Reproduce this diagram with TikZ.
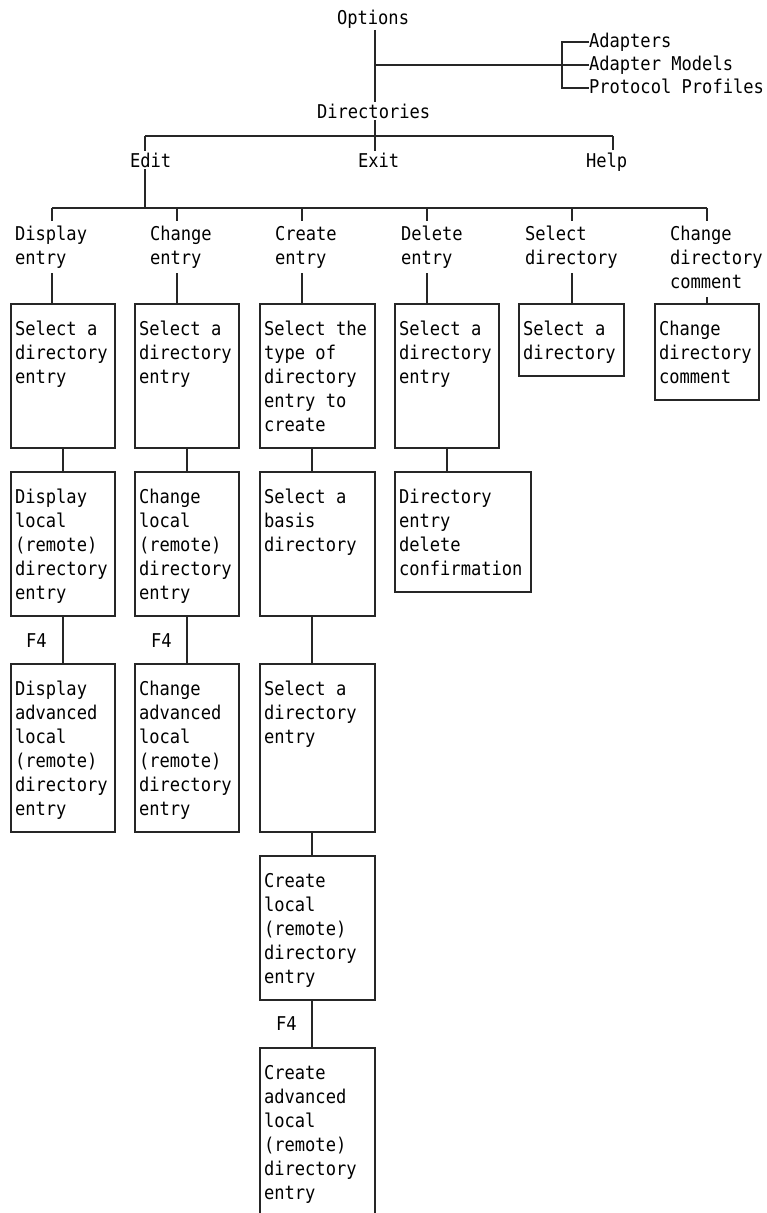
\documentclass[tikz,border=0pt]{standalone}
\usepackage{fontspec}
\newfontfamily\menufont[FakeStretch=0.9]{DejaVu Sans Mono}
% framed panel: fixed width/height, text hung from the top-left corner
\newcommand\mpanel[3]{\parbox[c][#2][t]{#1}{\leftskip=4pt\rule{0pt}{31pt}#3\par}}
% stacked label lines, baseline on the first line
\newcommand\mstack[1]{\begin{tabular}[t]{@{}l@{}}#1\end{tabular}}
\begin{document}
\begin{tikzpicture}[x=1pt,y=-1pt,
  font=\menufont\fontsize{19}{24}\selectfont,
  line/.style={draw=black!85, line width=1.3pt},
  boxed/.style={draw=black!85, line width=1.3pt, inner sep=0pt, outer sep=0pt, anchor=north west},
  txt/.style={inner xsep=0pt, inner ysep=2pt, outer sep=0pt, anchor=base west},
  sidetxt/.style={txt, text height=14pt, text depth=4pt}]
\useasboundingbox (0,0) rectangle (767,1213);

% ---- top menu bar
\node[txt] (opt) at (337,24) {Options};
\node[txt] (dir) at (317,118) {Directories};
\node[sidetxt] (ad) at (589,47) {Adapters};
\node[sidetxt] (am) at (589,70) {Adapter Models};
\node[sidetxt] (pp) at (589,93) {Protocol Profiles};
\coordinate (trunk) at (375,0);
\coordinate (brk) at (562,0);
\draw[line] (opt.south -| trunk) -- (dir.north -| trunk);
\draw[line] (trunk |- am.west) -- (am.west);
\draw[line] (ad.west) -- (ad.west -| brk) -- (pp.west -| brk) -- (pp.west);

% ---- Directories pull-down
\node[txt] (edit) at (130,167) {Edit};
\node[txt] (exit) at (358,167) {Exit};
\node[txt] (help) at (586,167) {Help};
\coordinate (ex) at (145,136);
\coordinate (hx) at (613,136);
\draw[line] (dir.south -| trunk) -- (trunk |- ex);
\draw[line] (ex) -- (hx);
\draw[line] (trunk |- ex) -- (trunk |- exit.north);
\draw[line] (hx) -- (hx |- help.north);
\draw[line] (ex) -- (ex |- edit.north);

% ---- Edit actions
\coordinate (t1) at (52,208);
\coordinate (t2) at (177,208);
\coordinate (t3) at (302,208);
\coordinate (t4) at (427,208);
\coordinate (t5) at (572,208);
\coordinate (t6) at (707,208);
\draw[line] (ex |- edit.south) -- (ex |- t1);
\draw[line] (t1) -- (t6);

\node[txt] (l1) at (15,240) {\mstack{Display\\entry}};
\node[txt] (l2) at (150,240) {\mstack{Change\\entry}};
\node[txt] (l3) at (275,240) {\mstack{Create\\entry}};
\node[txt] (l4) at (401,240) {\mstack{Delete\\entry}};
\node[txt] (l5) at (525,240) {\mstack{Select\\directory}};
\node[txt] (l6) at (670,240) {\mstack{Change\\directory\\comment}};

% ---- panels
\node[boxed] (dA) at (11,304) {\mpanel{104pt}{144pt}{Select a\\directory\\entry}};
\node[boxed] (dB) at (11,472) {\mpanel{104pt}{144pt}{Display\\local\\(remote)\\directory\\entry}};
\node[boxed] (dC) at (11,664) {\mpanel{104pt}{168pt}{Display\\advanced\\local\\(remote)\\directory\\entry}};

\node[boxed] (cA) at (135,304) {\mpanel{104pt}{144pt}{Select a\\directory\\entry}};
\node[boxed] (cB) at (135,472) {\mpanel{104pt}{144pt}{Change\\local\\(remote)\\directory\\entry}};
\node[boxed] (cC) at (135,664) {\mpanel{104pt}{168pt}{Change\\advanced\\local\\(remote)\\directory\\entry}};

\node[boxed] (kA) at (260,304) {\mpanel{115pt}{144pt}{Select the\\type of\\directory\\entry to\\create}};
\node[boxed] (kB) at (260,472) {\mpanel{115pt}{144pt}{Select a\\basis\\directory}};
\node[boxed] (kC) at (260,664) {\mpanel{115pt}{168pt}{Select a\\directory\\entry}};
\node[boxed] (kD) at (260,856) {\mpanel{115pt}{144pt}{Create\\local\\(remote)\\directory\\entry}};
\node[inner sep=0pt, outer sep=0pt, anchor=north west] (kE) at (260,1048)
  {\mpanel{115pt}{170pt}{Create\\advanced\\local\\(remote)\\directory\\entry}};
\draw[line] (kE.south west) -- (kE.north west) -- (kE.north east) -- (kE.south east);

\node[boxed] (eA) at (395,304) {\mpanel{104pt}{144pt}{Select a\\directory\\entry}};
\node[boxed] (eB) at (395,472) {\mpanel{136pt}{120pt}{Directory\\entry\\delete\\confirmation}};

\node[boxed] (sA) at (519,304) {\mpanel{105pt}{72pt}{Select a\\directory}};
\node[boxed] (mA) at (655,304) {\mpanel{104pt}{96pt}{Change\\directory\\comment}};

% ---- F4 key labels
\node[txt] (f1) at (26,647) {F4};
\node[txt] (f2) at (151,647) {F4};
\node[txt] (f3) at (276,1030) {F4};

% ---- label stubs
\foreach \t/\l/\b in {t1/l1/dA, t2/l2/cA, t3/l3/kA, t4/l4/eA, t5/l5/sA, t6/l6/mA}{
  \draw[line] (\t) -- (\t |- \l.north);
  \draw[line] (\t |- \l.south) -- (\t |- \b.north);
}

% ---- panel chains
\draw[line] (dA) -- (dB);
\draw[line] (dB) -- (dC);
\draw[line] (cA) -- (cB);
\draw[line] (cB) -- (cC);
\coordinate (kx) at (312,0);
\draw[line] (kA.south -| kx) -- (kB.north -| kx);
\draw[line] (kB.south -| kx) -- (kC.north -| kx);
\draw[line] (kC.south -| kx) -- (kD.north -| kx);
\draw[line] (kD.south -| kx) -- (kE.north -| kx);
\draw[line] (eA.south) -- (eA.south |- eB.north);
\end{tikzpicture}
\end{document}
